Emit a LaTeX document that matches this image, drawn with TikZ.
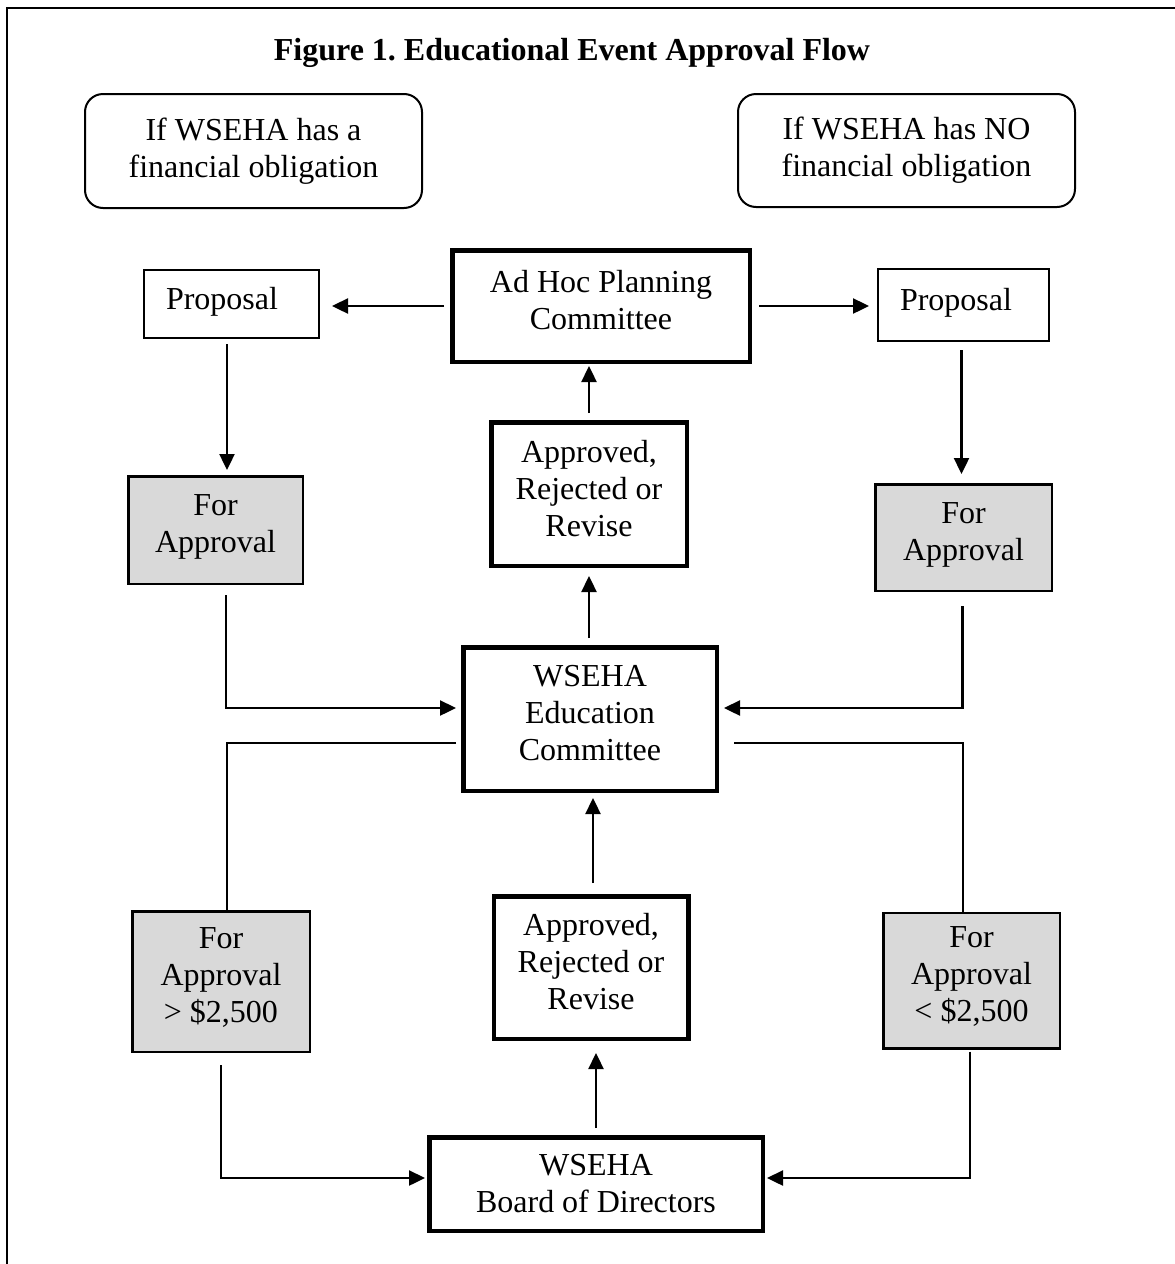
\documentclass[tikz,border=0pt]{standalone}
\usepackage{fontspec}
\setmainfont{Liberation Serif}
\usepackage{tikz}
\usetikzlibrary{arrows.meta,positioning,calc}
\usepackage{xcolor}
\definecolor{wsgray}{RGB}{217,217,217}
\frenchspacing

\tikzset{
  wsbox/.style={draw=black, align=center, inner sep=0pt, text depth=12pt,
    font=\fontsize{32}{37}\selectfont},
  notebox/.style={wsbox, line width=2pt, rounded corners=18pt, text depth=},
  plainbox/.style={wsbox, line width=2pt, align=left, inner xsep=22pt},
  thickbox/.style={wsbox, line width=4.5pt},
  graybox/.style={wsbox, line width=2.5pt, fill=wsgray},
  flow/.style={line width=2.4pt, -{Triangle[length=16pt,width=15pt]}},
  thinline/.style={line width=1.6pt}
}

\begin{document}
\begin{tikzpicture}[x=1pt, y=-1pt]
\useasboundingbox (0,0) rectangle (1175,1264);
% frame, open at right and bottom
\draw[line width=2pt] (1175,7.5) -- (7,7.5) -- (7,1264);

\node[font=\fontsize{32}{37}\selectfont\bfseries, anchor=base] (title) at (572,60) {Figure 1. Educational Event Approval Flow};

% two cases
\node[notebox, minimum width=337pt, minimum height=114pt] (finL) at (253.5,151) {If WSEHA has a\\financial obligation};
\node[notebox, minimum width=337pt, minimum height=113pt] (finR) at (906.5,150.5) {If WSEHA has NO\\financial obligation};

% top row
\node[thickbox, minimum width=297.5pt, minimum height=111.5pt] (adhoc) at (601,306) {Ad Hoc Planning\\Committee};
\node[plainbox, minimum width=175pt, minimum height=68pt, text width=131pt] (propL) at (231.5,304) {Proposal};
\node[plainbox, minimum width=171pt, minimum height=72pt, text width=127pt] (propR) at (963.5,305) {Proposal};

% approvals
\node[graybox, minimum width=174.5pt, minimum height=107.5pt] (forL) at (215.5,530) {For\\Approval};
\node[graybox, minimum width=176.5pt, minimum height=106.5pt] (forR) at (963.5,537.5) {For\\Approval};
\node[thickbox, minimum width=195.5pt, minimum height=143.5pt] (apprT) at (589,494) {Approved,\\Rejected or\\Revise};
\node[thickbox, minimum width=253.5pt, minimum height=143.5pt] (edu) at (590,719) {WSEHA\\Education\\Committee};
\node[thickbox, minimum width=194.5pt, minimum height=142.5pt] (apprB) at (591,967.5) {Approved,\\Rejected or\\Revise};
\node[graybox, minimum width=177.5pt, minimum height=140.5pt] (overL) at (221,981.5) {For\\Approval\\> \$2,500};
\node[graybox, minimum width=176.5pt, minimum height=135.5pt] (underR) at (971.5,980.5) {For\\Approval\\< \$2,500};
\node[thickbox, minimum width=333.5pt, minimum height=93.5pt, text depth=] (board) at (596,1184) {WSEHA\\Board of Directors};

% connectors
\draw[flow, shorten <=6pt, shorten >=12pt] (adhoc.west) -- (adhoc.west -| propL.east);
\draw[flow, shorten <=7pt, shorten >=8pt] (adhoc.east) -- (adhoc.east -| propR.west);
\draw[flow, shorten <=5pt, shorten >=5pt] ([xshift=-4.5pt]propL.south) -- ([xshift=-4.5pt]propL.south |- forL.north);
\draw[flow, shorten <=8pt, shorten >=9pt] ([xshift=-2pt]propR.south) -- ([xshift=-2pt]propR.south |- forR.north);
\draw[flow, shorten <=10pt, shorten >=5pt] ([xshift=10.5pt]forL.south) |- ([yshift=11pt]edu.west);
\draw[flow, shorten <=14pt, shorten >=5pt] ([xshift=-1pt]forR.south) |- ([yshift=11pt]edu.east);
\draw[flow, shorten <=7pt, shorten >=8pt] (apprT.south |- edu.north) -- (apprT.south);
\draw[flow, shorten <=7pt, shorten >=2pt] (apprT.north) -- (apprT.north |- adhoc.south);
\draw[flow, shorten <=11pt, shorten >=5pt] ([xshift=2pt]apprB.north) -- ([xshift=2pt]apprB.north |- edu.south);
\draw[flow, shorten <=7pt, shorten >=12pt] (board.north) -- (board.north |- apprB.south);
\draw[flow, shorten <=12pt, shorten >=2pt] (overL.south) |- ([yshift=6pt]board.west);
\draw[flow, shorten <=2pt, shorten >=2pt] ([xshift=-1.5pt]underR.south) |- ([yshift=6pt]board.east);
\draw[thinline, shorten <=5pt] ([yshift=-24pt]edu.west) -| ([xshift=6pt]overL.north);
\draw[thinline, shorten <=15pt] ([yshift=-24pt]edu.east) -| ([xshift=-8.5pt]underR.north);
\end{tikzpicture}
\end{document}
